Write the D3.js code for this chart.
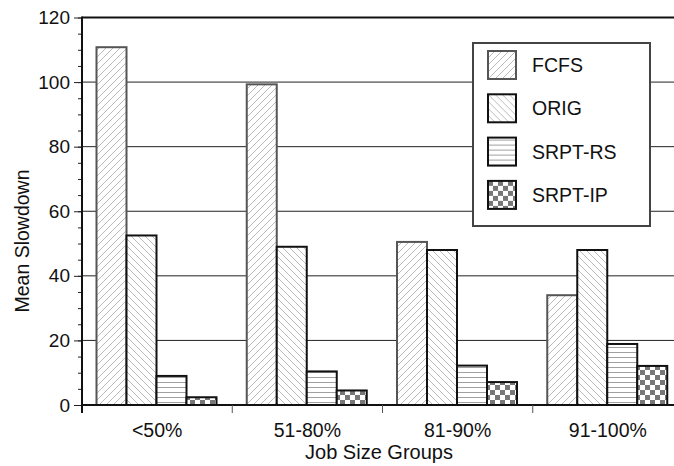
<!DOCTYPE html>
<html>
<head>
<meta charset="utf-8">
<script src="https://cdn.jsdelivr.net/npm/d3@7"></script>
<style>
  body { margin: 0; background: #fff; }
  svg text { font-family: "Liberation Sans", Arial, sans-serif; fill: #111; }
</style>
</head>
<body>
<div id="chart"></div>
<script>
// chart values
var groups = ["<50%", "51-80%", "81-90%", "91-100%"];
var series = ["FCFS", "ORIG", "SRPT-RS", "SRPT-IP"];
var fcfs   = [110.8, 99.3, 50.5, 34.0];
var orig   = [52.5, 49.0, 48.0, 48.0];
var srptRS = [9.0, 10.4, 12.2, 18.9];
var srptIP = [2.4, 4.5, 7.1, 12.1];
var yTicks = [0, 20, 40, 60, 80, 100, 120];

var values = [fcfs, orig, srptRS, srptIP];

var W = 674, H = 466;
var svg = d3.select("#chart").append("svg")
  .attr("width", W).attr("height", H);

var defs = svg.append("defs");

// fill patterns
var p1 = defs.append("pattern").attr("id", "pFCFS")
  .attr("patternUnits", "userSpaceOnUse").attr("width", 7).attr("height", 7);
p1.append("rect").attr("width", 7).attr("height", 7).attr("fill", "#fff");
p1.append("path").attr("d", "M-1,8 L8,-1 M-1,1 L1,-1 M6,8 L8,6")
  .attr("stroke", "#bbb").attr("stroke-width", 1);

var p2 = defs.append("pattern").attr("id", "pORIG")
  .attr("patternUnits", "userSpaceOnUse").attr("width", 7).attr("height", 7);
p2.append("rect").attr("width", 7).attr("height", 7).attr("fill", "#fff");
p2.append("path").attr("d", "M-1,-1 L8,8 M6,-1 L8,1 M-1,6 L1,8")
  .attr("stroke", "#bbb").attr("stroke-width", 1);

var p3 = defs.append("pattern").attr("id", "pRS")
  .attr("patternUnits", "userSpaceOnUse").attr("width", 10).attr("height", 5)
  .attr("y", 2);
p3.append("rect").attr("width", 10).attr("height", 5).attr("fill", "#fff");
p3.append("line").attr("x1", 0).attr("x2", 10).attr("y1", 0.5).attr("y2", 0.5)
  .attr("stroke", "#a0a0a0").attr("stroke-width", 1);

var p4 = defs.append("pattern").attr("id", "pIP")
  .attr("patternUnits", "userSpaceOnUse").attr("width", 10).attr("height", 10);
p4.append("rect").attr("width", 10).attr("height", 10).attr("fill", "#fff");
p4.append("rect").attr("width", 5).attr("height", 5).attr("fill", "#777");
p4.append("rect").attr("x", 5).attr("y", 5).attr("width", 5).attr("height", 5).attr("fill", "#777");

var fills   = ["url(#pFCFS)", "url(#pORIG)", "url(#pRS)", "url(#pIP)"];
var strokes = ["#555", "#111", "#111", "#111"];

// scales
var x0 = d3.scaleBand().domain(groups).range([82, 683]);
var x1 = d3.scaleBand().domain(series).range([14.5, 134.5]);
var y = d3.scaleLinear().domain([0, 120]).range([405, 17.5]);

// grid lines
svg.append("g").selectAll("line")
  .data(yTicks.filter(function(d) { return d > 0; }))
  .enter().append("line")
  .attr("x1", 82).attr("x2", W)
  .attr("y1", function(d) { return y(d); })
  .attr("y2", function(d) { return y(d); })
  .attr("stroke", function(d) { return d == 120 ? "#111" : "#222"; })
  .attr("stroke-width", function(d) { return d == 120 ? 2 : 1; });

// bars
var barData = [];
groups.forEach(function(g, gi) {
  series.forEach(function(s, si) {
    barData.push({ g: g, s: s, si: si, v: values[si][gi] });
  });
});

svg.append("g").selectAll("rect")
  .data(barData)
  .enter().append("rect")
  .attr("x", function(d) { return x0(d.g) + x1(d.s); })
  .attr("y", function(d) { return y(d.v); })
  .attr("width", x1.bandwidth())
  .attr("height", function(d) { return y(0) - y(d.v); })
  .attr("fill", function(d) { return fills[d.si]; })
  .attr("stroke", function(d) { return strokes[d.si]; })
  .attr("stroke-width", 2);

// y axis with minor ticks
var yAxis = svg.append("g").attr("transform", "translate(82,0)");
yAxis.append("g").call(d3.axisLeft(y).tickValues(d3.range(0, 121, 5)).tickSize(4).tickFormat(""))
  .call(function(g) { g.select(".domain").remove(); });
yAxis.append("g").call(d3.axisLeft(y).tickValues(yTicks).tickSize(8).tickPadding(4))
  .call(function(g) {
    g.select(".domain").remove();
    g.selectAll("text").attr("font-size", 19).attr("fill", "#111");
  });
yAxis.selectAll(".tick line").attr("stroke", "#222");
yAxis.append("line").attr("x1", 0).attr("x2", 0).attr("y1", y(120) - 1).attr("y2", y(0) + 8)
  .attr("stroke", "#111").attr("stroke-width", 2);

// x axis
var xAxis = svg.append("g").attr("transform", "translate(0,405)");
xAxis.append("line").attr("x1", 82).attr("x2", W).attr("y1", 0).attr("y2", 0)
  .attr("stroke", "#111").attr("stroke-width", 2);
xAxis.selectAll(".sep")
  .data(groups.slice(1))
  .enter().append("line")
  .attr("x1", function(d) { return x0(d); })
  .attr("x2", function(d) { return x0(d); })
  .attr("y1", 0).attr("y2", 8)
  .attr("stroke", "#555").attr("stroke-width", 1);
xAxis.selectAll("text")
  .data(groups)
  .enter().append("text")
  .attr("x", function(d) { return x0(d) + x0.bandwidth() / 2; })
  .attr("y", 32)
  .attr("text-anchor", "middle")
  .attr("font-size", 19.5)
  .text(function(d) { return d; });

// axis titles
svg.append("text")
  .attr("x", 379).attr("y", 459)
  .attr("text-anchor", "middle").attr("font-size", 20)
  .text("Job Size Groups");
svg.append("text")
  .attr("transform", "translate(29,241) rotate(-90)")
  .attr("text-anchor", "middle").attr("font-size", 19.5)
  .text("Mean Slowdown");

// legend
var legend = svg.append("g");
legend.append("rect")
  .attr("x", 473).attr("y", 43).attr("width", 177).attr("height", 183)
  .attr("fill", "#fff").attr("stroke", "#444").attr("stroke-width", 2);
var item = legend.selectAll(".item")
  .data(series)
  .enter().append("g")
  .attr("transform", function(d, i) { return "translate(488," + (51 + i * 43.3) + ")"; });
item.append("rect")
  .attr("width", 28).attr("height", 28)
  .attr("fill", function(d, i) { return fills[i]; })
  .attr("stroke", function(d, i) { return strokes[i]; })
  .attr("stroke-width", 2);
item.append("text")
  .attr("x", 44).attr("y", 21)
  .attr("font-size", 19.5)
  .text(function(d) { return d; });
</script>
</body>
</html>
